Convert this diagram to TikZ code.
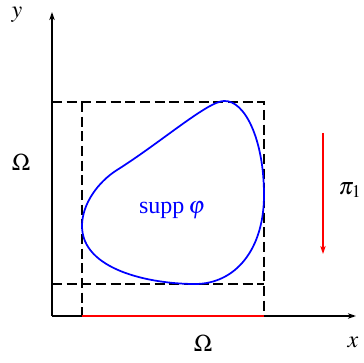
\documentclass[tikz,border=0pt]{standalone}
\usepackage{mathptmx}
\usepackage{fontspec}
\setmainfont{Liberation Serif}
\usepackage{xcolor}
\usetikzlibrary{arrows.meta}

\begin{document}
\begin{tikzpicture}[x=0.75pt,y=0.75pt,yscale=-1,xscale=1]
\useasboundingbox (0,0) rectangle (364,363);

\tikzset{
  axis/.style={line width=1.2pt,-{Stealth[length=6pt,width=4pt,inset=1.5pt]}},
  box/.style={line width=1.1pt,dash pattern=on 7.5pt off 3.5pt},
  lbl/.style={font=\fontsize{18}{20}\selectfont}
}

% axes
\coordinate (O) at (52,316);
\coordinate (xend) at (356,316);
\coordinate (yend) at (52,12);
\draw [axis] (O) -- (xend);
\draw [axis] (O) -- (yend);

% dashed box and its projections
\coordinate (a1) at (82,316);
\coordinate (b1) at (264,316);
\coordinate (a2) at (82,102);
\coordinate (b2) at (264,102);
\coordinate (c1) at (52,102);
\coordinate (c2) at (52,284);
\coordinate (d2) at (264,284);
\draw [box] (c1) -- (b2) -- (b1);
\draw [box] (c2) -- (d2);
\draw [box] (a2) -- (a1);

% red segment on x axis
\draw [red,line width=1.6pt] (a1) -- (b1);

% support curve
\draw [blue,line width=1.3pt] (224,101) .. controls (245,100) and (264,140) .. (264,195)
  .. controls (264,250) and (235,284) .. (195,284)
  .. controls (150,284) and (82,270) .. (82,226)
  .. controls (82,204) and (98,182) .. (117,170)
  .. controls (160,143) and (208,101) .. cycle;
\node [lbl,color=blue] (supp) at (172,210) {supp\,$\varphi$};

% projection arrow
\coordinate (p1) at (323,133);
\coordinate (p2) at (323,254);
\draw [red,line width=0.9pt,-{Stealth[length=6pt,width=4pt,inset=1.5pt]}] (p1) -- (p2);
\node [lbl] (pi) at (350,190) {$\pi_1$};

% labels
\node [lbl] (ylbl) at (17,15) {$y$};
\node [lbl] (xlbl) at (353,342) {$x$};
\node [lbl] (omy) at (21,162) {$\Omega$};
\node [lbl] (omx) at (203,343) {$\Omega$};

\end{tikzpicture}
\end{document}
